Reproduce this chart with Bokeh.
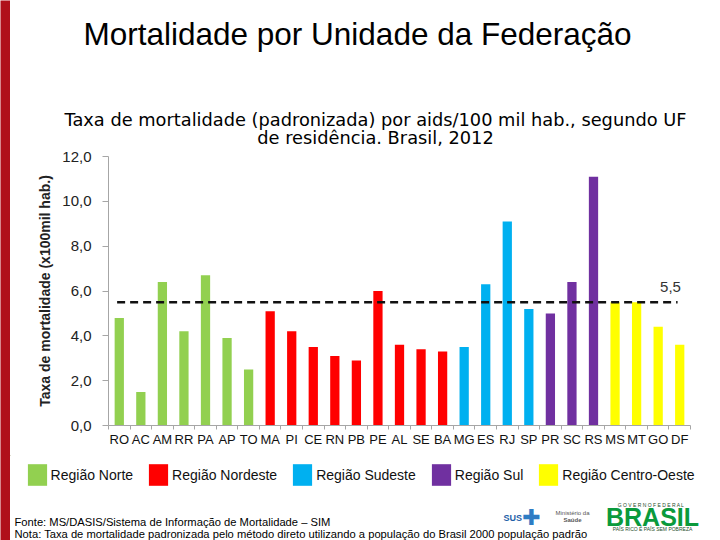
from bokeh.plotting import figure
from bokeh.layouts import row, column
from bokeh.models import (Range1d, FixedTicker, CustomJSTickFormatter, Label, Legend,
                          LegendItem, ColumnDataSource)
from bokeh.embed import file_html
from bokeh.resources import INLINE

# ---------------- data ----------------
ufs = ["RO", "AC", "AM", "RR", "PA", "AP", "TO",
       "MA", "PI", "CE", "RN", "PB", "PE", "AL", "SE", "BA",
       "MG", "ES", "RJ", "SP",
       "PR", "SC", "RS",
       "MS", "MT", "GO", "DF"]
taxas = [4.8, 1.5, 6.4, 4.2, 6.7, 3.9, 2.5,
         5.1, 4.2, 3.5, 3.1, 2.9, 6.0, 3.6, 3.4, 3.3,
         3.5, 6.3, 9.1, 5.2,
         5.0, 6.4, 11.1,
         5.5, 5.5, 4.4, 3.6]
regioes_uf = ["Norte"] * 7 + ["Nordeste"] * 9 + ["Sudeste"] * 4 + ["Sul"] * 3 + ["Centro-Oeste"] * 4
regioes = ["Norte", "Nordeste", "Sudeste", "Sul", "Centro-Oeste"]
cores = {"Norte": "#92D050", "Nordeste": "#FF0000", "Sudeste": "#00B0F0",
         "Sul": "#7030A0", "Centro-Oeste": "#FFFF00"}
taxa_brasil = 5.5
y_ticks = [0, 2, 4, 6, 8, 10, 12]

# ---------------- layout constants (image pixels) ----------------
W, H = 720, 540
STRIP = 10                 # red band on the left
TOP_H = 147                # title area
FL, FR, FT, FB = 108, 690, 156, 425   # plot frame
MAIN_BOTTOM = 455
N = len(ufs)
YMAX = 12


def X(px):
    return (px - FL) / (FR - FL) * N


def Y(py):
    return (FB - py) / (FB - FT) * YMAX


def blank(width, height, x_range, y_range):
    f = figure(width=width, height=height, x_range=x_range, y_range=y_range,
               output_backend="svg", toolbar_location=None,
               x_axis_location=None, y_axis_location=None, min_border=0)
    f.outline_line_color = None
    f.grid.visible = False
    f.background_fill_color = "white"
    f.border_fill_color = "white"
    return f


# red band
strip = blank(STRIP, H, Range1d(0, 1), Range1d(0, 1))
strip.background_fill_color = "#B0101A"
strip.border_fill_color = "#B0101A"

# ---------------- title area ----------------
top = blank(W - STRIP, TOP_H, Range1d(STRIP, W), Range1d(TOP_H, 0))
top.add_layout(Label(x=357, y=33.5, text="Mortalidade por Unidade da Federação",
                     text_font="Liberation Sans", text_font_size="31.5px", text_color="#000000",
                     text_align="center", text_baseline="middle"))
top.add_layout(Label(x=375, y=119,
                     text="Taxa de mortalidade (padronizada) por aids/100 mil hab., segundo UF",
                     text_font="DejaVu Sans", text_font_size="17.8px", text_color="#000000",
                     text_align="center", text_baseline="middle"))
top.add_layout(Label(x=375, y=136.5, text="de residência. Brasil, 2012",
                     text_font="DejaVu Sans", text_font_size="17.8px", text_color="#000000",
                     text_align="center", text_baseline="middle"))

# ---------------- main chart ----------------
p = figure(width=W - STRIP, height=MAIN_BOTTOM - TOP_H,
           x_range=Range1d(0, N), y_range=Range1d(0, YMAX),
           output_backend="svg", toolbar_location=None,
           min_border_left=FL - STRIP, min_border_right=W - FR,
           min_border_top=FT - TOP_H, min_border_bottom=MAIN_BOTTOM - FB)
p.outline_line_color = None
p.grid.visible = False
p.background_fill_color = "white"
p.border_fill_color = "white"

for reg in regioes:
    idx = [i for i, r in enumerate(regioes_uf) if r == reg]
    src = ColumnDataSource(dict(x=[i + 0.5 for i in idx], top=[taxas[i] for i in idx]))
    p.vbar(x="x", top="top", width=0.43, source=src,
           fill_color=cores[reg], line_color=None)

p.segment(x0=[0.4], y0=[taxa_brasil], x1=[N - 0.6], y1=[taxa_brasil],
          line_color="#111111", line_width=2.5, line_dash="8 5")
p.add_layout(Label(x=X(670), y=Y(286.5), text=f"{taxa_brasil:.1f}".replace(".", ","),
                   text_font="Liberation Sans", text_font_size="15px",
                   text_color="#333333", text_align="center", text_baseline="middle"))

xa = p.xaxis[0]
xa.ticker = FixedTicker(ticks=[i + 0.5 for i in range(N)], minor_ticks=list(range(N + 1)))
xa.major_label_overrides = {i + 0.5: u for i, u in enumerate(ufs)}
xa.axis_line_color = "#A6A6A6"
xa.major_tick_out = 0
xa.major_tick_in = 0
xa.minor_tick_out = 4
xa.minor_tick_in = 0
xa.minor_tick_line_color = "#A6A6A6"
xa.major_label_standoff = 2
xa.major_label_text_font = "Liberation Sans"
xa.major_label_text_font_size = "13px"
xa.major_label_text_color = "#111111"

ya = p.yaxis[0]
ya.ticker = FixedTicker(ticks=y_ticks)
ya.formatter = CustomJSTickFormatter(code="return tick.toFixed(1).replace('.', ',');")
ya.axis_line_color = "#A6A6A6"
ya.major_tick_line_color = "#A6A6A6"
ya.major_tick_out = 6
ya.major_tick_in = 0
ya.minor_tick_line_color = None
ya.major_label_standoff = 11
ya.major_label_text_font = "Liberation Sans"
ya.major_label_text_font_size = "15px"
ya.major_label_text_color = "#222222"
ya.axis_label = "Taxa de mortalidade (x100mil hab.)"
ya.axis_label_text_font = "Liberation Sans"
ya.axis_label_text_font_style = "bold"
ya.axis_label_text_font_size = "14px"
ya.axis_label_text_color = "#222222"
ya.axis_label_standoff = 6

# ---------------- bottom: legend + footer ----------------
bot = blank(W - STRIP, H - MAIN_BOTTOM, Range1d(STRIP, W), Range1d(H, MAIN_BOTTOM))
items = []
for reg in regioes:
    r = bot.vbar(x=[-1000], top=[0], width=1, fill_color=cores[reg], line_color=None)
    items.append(LegendItem(label="Região " + reg, renderers=[r]))
legend = Legend(items=items, orientation="horizontal", location=(24.6 - STRIP, H - 488),
                glyph_width=24, glyph_height=27, label_standoff=2, spacing=13,
                padding=0, margin=0, border_line_color=None, background_fill_alpha=0,
                label_text_font="Liberation Sans", label_text_font_size="14px",
                label_text_color="#111111", label_height=27)
bot.add_layout(legend)

foot_font = "Liberation Sans"
bot.add_layout(Label(x=14, y=521,
                     text="Fonte: MS/DASIS/Sistema de Informação de Mortalidade – SIM",
                     text_font=foot_font, text_font_size="11.2px", text_color="#000000",
                     text_align="left", text_baseline="middle"))
bot.add_layout(Label(x=14, y=533,
                     text="Nota: Taxa de mortalidade padronizada pelo método direto utilizando a população do Brasil 2000 população padrão",
                     text_font=foot_font, text_font_size="11.2px", text_color="#000000",
                     text_align="left", text_baseline="middle"))

bot.add_layout(Label(x=503, y=517, text="SUS", text_font="Liberation Sans",
                     text_font_style="bold", text_font_size="9px", text_color="#1F5FA8",
                     text_align="left", text_baseline="middle"))
bot.add_layout(Label(x=531, y=517, text="✚", text_font="DejaVu Sans",
                     text_font_size="22px", text_color="#2E7CC4",
                     text_align="center", text_baseline="middle"))
bot.add_layout(Label(x=572, y=512, text="Ministério da", text_font="Liberation Sans",
                     text_font_size="6px", text_color="#555555",
                     text_align="center", text_baseline="middle"))
bot.add_layout(Label(x=572, y=519, text="Saúde", text_font="Liberation Sans",
                     text_font_style="bold", text_font_size="6px", text_color="#555555",
                     text_align="center", text_baseline="middle"))
bot.add_layout(Label(x=652, y=504, text="G O V E R N O   F E D E R A L",
                     text_font="Liberation Sans", text_font_size="5px", text_color="#1F4E2A",
                     text_align="center", text_baseline="middle"))
bot.add_layout(Label(x=652, y=516, text="BRASIL", text_font="Liberation Sans",
                     text_font_style="bold", text_font_size="25px", text_color="#0A9A3C",
                     text_align="center", text_baseline="middle"))
bot.add_layout(Label(x=652, y=528, text="PAÍS RICO É PAÍS SEM POBREZA",
                     text_font="Liberation Sans", text_font_size="5px", text_color="#1F4E2A",
                     text_align="center", text_baseline="middle"))

layout = row(strip, column(row(top), row(p), row(bot)))
open("out.html", "w").write(file_html(layout, INLINE))
